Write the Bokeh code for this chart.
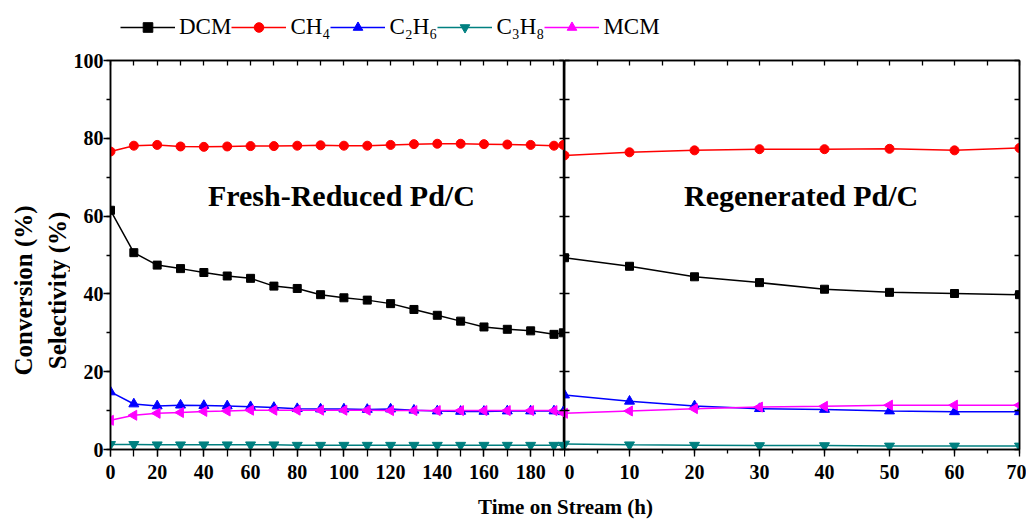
import math
from bokeh.plotting import figure
from bokeh.layouts import column, row
from bokeh.models import (Range1d, LinearAxis, SingleIntervalTicker, Label,
                          Legend, LegendItem, ColumnDataSource, CustomJSTickFormatter)
from bokeh.embed import file_html
from bokeh.resources import INLINE

# ---------------- data ----------------
fresh_time = [0, 10, 20, 30, 40, 50, 60, 70, 80, 90, 100, 110, 120, 130, 140,
              150, 160, 170, 180, 190, 194]
fresh_dcm = [61.5, 50.6, 47.4, 46.5, 45.5, 44.6, 44.0, 42.0, 41.4, 39.8, 39.0,
             38.4, 37.5, 36.0, 34.5, 33.0, 31.5, 30.9, 30.5, 29.6, 30.0]
fresh_ch4 = [76.6, 78.1, 78.3, 77.9, 77.8, 77.9, 78.0, 78.0, 78.1, 78.2, 78.1,
             78.1, 78.3, 78.5, 78.6, 78.6, 78.5, 78.4, 78.3, 78.1, 78.3]
fresh_c2h6 = [14.8, 11.7, 11.2, 11.4, 11.3, 11.2, 11.0, 10.8, 10.5, 10.4, 10.4,
              10.3, 10.4, 10.1, 9.9, 9.8, 9.8, 9.9, 9.9, 9.9, 9.7]
fresh_c3h8 = [1.3, 1.3, 1.2, 1.2, 1.2, 1.2, 1.2, 1.2, 1.1, 1.1, 1.1, 1.1, 1.1,
              1.1, 1.1, 1.1, 1.1, 1.1, 1.1, 1.1, 1.1]
fresh_mcm = [7.5, 8.8, 9.3, 9.5, 9.8, 9.9, 10.1, 10.1, 10.1, 10.1, 10.1, 10.1,
             10.0, 10.0, 10.0, 10.0, 10.0, 10.0, 10.0, 10.0, 9.4]

regen_time = [0, 10, 20, 30, 40, 50, 60, 70]
regen_dcm = [49.3, 47.1, 44.4, 42.9, 41.2, 40.4, 40.1, 39.8]
regen_ch4 = [75.6, 76.4, 76.9, 77.2, 77.2, 77.3, 76.9, 77.5]
regen_c2h6 = [14.0, 12.4, 11.2, 10.5, 10.3, 9.9, 9.7, 9.7]
regen_c3h8 = [1.4, 1.2, 1.1, 1.0, 1.0, 0.9, 0.9, 0.9]
regen_mcm = [9.3, 9.9, 10.5, 10.9, 11.1, 11.4, 11.4, 11.4]

series_names = ["DCM", "CH\u2084", "C\u2082H\u2086", "C\u2083H\u2088", "MCM"]
series_colors = ["black", "#ff0000", "#0000ff", "#008080", "#ff00ff"]
series_markers = ["square", "circle", "triangle", "inverted_triangle", "triangle"]
series_angles = [0, 0, 0, 0, math.pi / 2]
series_sizes = [8, 9, 10, 10, 10]

fresh_values = [fresh_dcm, fresh_ch4, fresh_c2h6, fresh_c3h8, fresh_mcm]
regen_values = [regen_dcm, regen_ch4, regen_c2h6, regen_c3h8, regen_mcm]

y_label_1 = "Conversion (%)"
y_label_2 = "Selectivity (%)"
x_label = "Time on Stream (h)"
panel_titles = ["Fresh-Reduced Pd/C", "Regenerated Pd/C"]

SERIF = "Liberation Serif"
FRAME_H = 389
TOP_B = 12
BOT_B = 38
YLAB_W = 70


def add_axis(p, side, interval, nminor, tin, tout, min_in, min_out, labels):
    ax = LinearAxis(ticker=SingleIntervalTicker(interval=interval, num_minor_ticks=nminor))
    ax.axis_line_color = "black"
    ax.axis_line_width = 1.5
    ax.major_tick_line_width = 1.3
    ax.minor_tick_line_width = 1.3
    ax.major_tick_in = tin
    ax.major_tick_out = tout
    ax.minor_tick_in = min_in
    ax.minor_tick_out = min_out
    if labels:
        ax.major_label_text_font = SERIF
        ax.major_label_text_font_style = "bold"
        ax.major_label_text_font_size = "20px"
        ax.major_label_text_color = "black"
        ax.major_label_standoff = 8 if side == "below" else 0
    else:
        ax.formatter = CustomJSTickFormatter(code="return ''")
        ax.major_label_standoff = 0
        if side in ("above", "below"):
            ax.major_label_orientation = "vertical"
    p.add_layout(ax, side)
    return ax


def make_panel(times, values, xmax, fw, bl, br):
    p = figure(frame_width=fw, frame_height=FRAME_H,
               x_range=Range1d(0, xmax), y_range=Range1d(0, 100),
               x_axis_location=None, y_axis_location=None,
               toolbar_location=None, output_backend="svg",
               min_border_left=bl, min_border_right=br,
               min_border_top=TOP_B, min_border_bottom=BOT_B)
    p.grid.visible = False
    p.outline_line_color = "black"
    p.outline_line_width = 1.5
    p.background_fill_color = "white"
    for vals, col, mk, ang, sz in zip(values, series_colors, series_markers,
                                      series_angles, series_sizes):
        src = ColumnDataSource(dict(x=times, y=vals))
        p.line("x", "y", source=src, line_color=col, line_width=1.5)
        p.scatter("x", "y", source=src, marker=mk, angle=ang, size=sz,
                  fill_color=col, line_color=col)
    return p


def blank_fig(fw, fh, xr, yr, bt=0, bb=0):
    f = figure(frame_width=fw, frame_height=fh, x_range=xr, y_range=yr,
               x_axis_location=None, y_axis_location=None, toolbar_location=None,
               output_backend="svg", min_border_left=0, min_border_right=0,
               min_border_top=bt, min_border_bottom=bb)
    f.grid.visible = False
    f.outline_line_color = None
    return f


left = make_panel(fresh_time, fresh_values, 194.5, 454, 110 - YLAB_W, 0)
add_axis(left, "below", 20, 2, 0, 7, 0, 7, True)
add_axis(left, "above", 10, 0, 5, 0, 0, 0, False)
add_axis(left, "left", 20, 2, 0, 7, 0, 4, True)
add_axis(left, "right", 10, 0, 5, 0, 0, 0, False)

right = make_panel(regen_time, regen_values, 70, 455, 0, 7)
add_axis(right, "below", 10, 2, 0, 7, 0, 4, True)
add_axis(right, "above", 5, 0, 5, 0, 0, 0, False)
add_axis(right, "left", 10, 0, 5, 0, 0, 0, False)
add_axis(right, "right", 10, 0, 5, 0, 0, 0, False)

left.add_layout(Label(x=98.9, y=65.3, text=panel_titles[0], text_align="center",
                      text_baseline="middle", text_font=SERIF, text_font_style="bold",
                      text_font_size="30px", text_color="black"))
right.add_layout(Label(x=36.4, y=65.3, text=panel_titles[1], text_align="center",
                       text_baseline="middle", text_font=SERIF, text_font_style="bold",
                       text_font_size="30px", text_color="black"))

# ---------------- y-label strip (same vertical scale as the panels) ----------------
ylab = blank_fig(YLAB_W, FRAME_H, Range1d(0, YLAB_W), Range1d(0, 100), TOP_B, BOT_B)
for xc, txt in ((23, y_label_1), (57, y_label_2)):
    ylab.add_layout(Label(x=xc, y=40.9, text=txt, angle=math.pi / 2, text_align="center",
                          text_baseline="middle", text_font=SERIF, text_font_style="bold",
                          text_font_size="25px", text_color="black"))

# ---------------- legend strip ----------------
top = blank_fig(1026, 48, Range1d(0, 1), Range1d(500, 600))
items = []
for vals, name, col, mk, ang, sz in zip(fresh_values, series_names, series_colors,
                                        series_markers, series_angles, series_sizes):
    src = ColumnDataSource(dict(x=fresh_time, y=vals))
    r1 = top.line("x", "y", source=src, line_color=col, line_width=1.5)
    r2 = top.scatter("x", "y", source=src, marker=mk, angle=ang, size=sz,
                     fill_color=col, line_color=col)
    items.append(LegendItem(label=name, renderers=[r1, r2]))
leg = Legend(items=items, orientation="horizontal", location=(120, 8),
             glyph_width=55, glyph_height=24, label_standoff=4, spacing=0,
             padding=0, margin=0, border_line_alpha=0, background_fill_alpha=0,
             label_text_font=SERIF, label_text_font_size="23px",
             label_text_color="black")
top.add_layout(leg)

# ---------------- x-label strip ----------------
bot = blank_fig(1026, 33, Range1d(0, 1026), Range1d(0, 33))
bot.add_layout(Label(x=565, y=14, text=x_label, text_align="center",
                     text_baseline="middle", text_font=SERIF,
                     text_font_style="bold", text_font_size="21px", text_color="black"))

layout = column(top, row(ylab, left, right), bot)
open("out.html", "w").write(file_html(layout, INLINE))
